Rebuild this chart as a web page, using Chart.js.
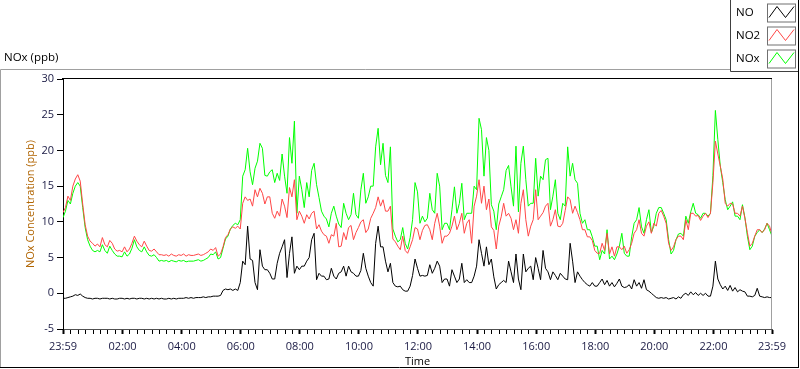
<!DOCTYPE html>
<html>
<head>
<meta charset="utf-8">
<title>NOx</title>
<script src="https://cdn.jsdelivr.net/npm/chart.js@4.4.1/dist/chart.umd.min.js"></script>
<style>
  html, body { margin: 0; padding: 0; background: #fff; }
  #wrap { width: 800px; height: 369px; }
</style>
</head>
<body>
<div id="wrap"><canvas id="noxChart" width="800" height="369"></canvas></div>
<script>
// samples every 5 minutes, starting at 23:59 of the previous day
const startMinute = -1;
const stepMinutes = 5;

const noValues = [
  -0.7, -0.7, -0.6, -0.5, -0.4, -0.2, -0.3, -0.1, -0.4, -0.6,
  -0.7, -0.7, -0.8, -0.7, -0.7, -0.8, -0.7, -0.7, -0.7, -0.8,
  -0.7, -0.8, -0.8, -0.7, -0.7, -0.8, -0.7, -0.8, -0.7, -0.7,
  -0.8, -0.7, -0.7, -0.8, -0.7, -0.8, -0.7, -0.8, -0.7, -0.8,
  -0.7, -0.8, -0.8, -0.7, -0.8, -0.7, -0.8, -0.7, -0.7, -0.7,
  -0.6, -0.7, -0.6, -0.7, -0.6, -0.6, -0.6, -0.5, -0.6, -0.5,
  -0.5, -0.4, -0.4, -0.4, -0.3, 0.4, 0.6, 0.5, 0.6, 0.4,
  0.6, 0.4, 1.5, 4.5, 4.0, 9.4, 4.8, 4.6, 1.5, 0.5,
  6.1, 3.8, 3.3, 3.3, 2.8, 2.0, 2.0, 4.2, 5.6, 6.5,
  7.5, 2.2, 5.6, 7.9, 2.8, 3.8, 3.3, 3.8, 3.8, 4.5,
  5.0, 7.5, 8.4, 1.9, 2.8, 2.4, 2.4, 1.9, 2.0, 3.5,
  2.4, 2.0, 2.8, 3.0, 3.8, 2.4, 3.8, 3.0, 2.8, 2.4,
  2.4, 3.2, 5.6, 3.5, 2.4, 1.5, 1.0, 7.0, 9.4, 6.5,
  6.5, 4.5, 3.0, 4.2, 1.5, 1.0, 0.9, 1.0, 0.5, 0.3,
  0.3, 1.0, 2.5, 4.8, 3.5, 2.4, 2.5, 2.4, 2.5, 4.0,
  2.8, 3.5, 4.5, 3.8, 1.5, 2.0, 2.0, 1.0, 3.3, 2.4,
  1.5, 2.0, 4.2, 1.5, 1.9, 1.5, 1.5, 2.4, 3.8, 7.5,
  5.6, 3.8, 6.5, 4.0, 4.8, 2.3, 0.6, 1.2, 1.5, 1.8,
  1.5, 4.5, 3.0, 1.5, 5.5, 2.0, 0.5, 5.5, 3.0, 3.5,
  3.8, 1.9, 5.0, 3.5, 1.9, 6.0, 3.5, 3.0, 1.9, 3.0,
  2.5, 1.9, 2.8, 2.4, 2.0, 1.9, 7.0, 4.5, 1.5, 3.0,
  2.4, 1.9, 1.5, 1.2, 1.0, 1.5, 1.0, 1.0, 1.5, 2.0,
  1.2, 1.8, 1.0, 1.5, 0.9, 1.4, 2.0, 1.0, 0.8, 0.9,
  1.2, 0.6, 1.9, 1.0, 1.5, 0.7, 1.9, 0.5, 0.3, 0.0,
  -0.3, -0.6, -0.7, -0.6, -0.7, -0.6, -0.8, -0.7, -0.6, -0.8,
  -0.5, -0.7, -0.2, 0.0, -0.3, 0.2, -0.2, 0.1, -0.3, 0.0,
  -0.3, 0.0, -0.4, -0.4, 1.0, 4.5, 2.0, 1.2, 0.6, 1.0,
  0.4, 1.1, 0.3, 0.8, 0.2, 0.5, 0.3, 0.2, -0.4, -0.4,
  -0.5, -0.3, 0.7, -0.4, -0.5, -0.6, -0.5, -0.6, -0.6
];

const no2Values = [
  11.3, 12.0, 13.6, 13.0, 15.0, 16.0, 16.6, 15.7, 12.5, 9.6,
  8.0, 7.3, 7.0, 6.6, 6.9, 6.5, 7.8, 6.8, 6.5, 7.4,
  7.0, 6.2, 5.9, 6.0, 5.8, 6.5, 5.8, 6.2, 7.0, 8.0,
  7.3, 6.8, 6.5, 7.3, 6.6, 6.0, 5.9, 6.2, 5.8, 5.4,
  5.4, 5.3, 5.4, 5.2, 5.5, 5.3, 5.2, 5.4, 5.3, 5.5,
  5.2, 5.4, 5.3, 5.3, 5.4, 5.5, 5.3, 5.4, 5.6, 5.8,
  6.2, 6.0, 6.4, 5.2, 5.5, 6.5, 7.8, 8.2, 9.0, 9.3,
  9.1, 9.4, 9.0, 12.6, 13.5, 13.0, 13.2, 12.2, 14.5, 13.5,
  14.7, 14.0, 12.5, 13.5, 13.5, 11.2, 10.5, 11.5, 10.8, 13.2,
  12.2, 10.6, 14.8, 13.5, 15.9, 10.3, 11.5, 10.8, 9.8, 11.0,
  10.4, 11.2, 11.5, 9.0, 9.6, 8.7, 8.2, 8.0, 7.0, 8.2,
  8.0, 9.8, 6.5, 6.6, 8.5, 7.5, 9.2, 9.5, 7.5, 8.5,
  9.2, 10.0, 10.3, 8.5, 9.0, 10.5, 11.2, 12.0, 13.5, 12.2,
  13.1, 11.5, 11.5, 12.2, 7.6, 7.2, 6.6, 6.1, 8.0, 6.0,
  5.6, 6.5, 7.5, 9.2, 9.0, 7.5, 8.8, 9.5, 9.6, 8.9,
  7.5, 9.8, 11.2, 9.4, 7.0, 8.0, 8.0, 8.4, 9.4, 10.8,
  8.9, 9.8, 11.2, 8.4, 9.8, 10.3, 7.0, 12.2, 13.6, 15.9,
  12.6, 15.0, 11.7, 13.2, 9.3, 8.8, 6.2, 9.4, 10.7, 12.6,
  10.8, 11.2, 10.5, 8.9, 10.3, 8.4, 12.6, 14.5, 10.3, 8.0,
  9.4, 10.3, 14.5, 10.3, 10.8, 11.3, 12.2, 12.6, 9.4, 10.3,
  11.7, 9.4, 9.3, 9.8, 11.6, 13.5, 13.1, 11.2, 12.2, 11.3,
  10.3, 8.9, 8.9, 7.9, 7.9, 7.4, 6.0, 5.6, 5.6, 7.0,
  6.0, 8.4, 5.5, 6.5, 5.2, 6.5, 6.5, 6.1, 6.6, 5.6,
  6.1, 7.0, 8.4, 8.9, 10.3, 8.4, 8.0, 9.4, 10.0, 8.4,
  9.8, 9.4, 11.2, 11.6, 10.8, 9.8, 7.0, 6.0, 6.5, 7.5,
  8.0, 8.0, 7.5, 10.3, 8.9, 11.2, 11.2, 10.8, 10.9, 10.2,
  10.8, 11.2, 10.6, 11.2, 15.5, 21.3, 19.5, 17.8, 16.0, 12.6,
  12.2, 12.6, 12.5, 11.2, 11.2, 10.8, 12.2, 10.5, 8.5, 6.6,
  7.0, 8.0, 8.9, 8.9, 8.5, 8.9, 9.8, 9.4, 8.2
];

const noxValues = [
  10.6, 11.5, 13.0, 12.5, 14.0, 15.0, 15.5, 15.0, 12.0, 9.2,
  7.5, 6.6, 6.0, 5.8, 6.0, 5.8, 6.8, 6.0, 5.6, 6.6,
  6.0, 5.5, 5.2, 5.2, 5.1, 5.8, 5.2, 5.5, 6.3, 7.5,
  6.5, 6.0, 5.8, 6.5, 5.8, 5.3, 5.2, 5.4, 5.0, 4.5,
  4.6, 4.5, 4.6, 4.4, 4.6, 4.5, 4.4, 4.6, 4.5, 4.6,
  4.4, 4.5, 4.5, 4.5, 4.6, 4.7, 4.5, 4.6, 4.8, 5.0,
  5.5, 5.4, 5.8, 4.8, 5.0, 6.3, 7.6, 8.0, 9.0, 9.5,
  9.8, 9.6, 10.3, 16.4, 17.3, 20.3, 17.0, 15.2, 17.5, 18.5,
  21.0, 20.3, 16.5, 16.4, 17.0, 17.3, 15.5, 16.8, 15.8, 19.5,
  16.4, 14.0, 21.8, 18.2, 24.1, 11.2, 16.4, 14.5, 12.0, 15.5,
  13.5, 17.2, 18.2, 15.2, 13.4, 11.5, 10.8, 10.4, 9.3, 11.2,
  12.2, 10.8, 9.7, 9.2, 12.6, 11.2, 10.3, 11.0, 14.0, 11.0,
  10.5, 14.5, 16.8, 12.6, 13.5, 15.0, 15.0, 20.5, 23.1, 18.0,
  21.0, 16.5, 15.5, 20.5, 9.0, 8.0, 7.2, 7.5, 9.2, 7.0,
  6.2, 7.8, 10.3, 15.5, 14.2, 9.8, 10.8, 10.0, 10.5, 14.0,
  11.7, 11.2, 16.8, 15.0, 8.9, 9.8, 9.8, 8.9, 11.7, 14.9,
  11.2, 12.6, 15.4, 10.3, 11.2, 11.2, 11.2, 15.0, 14.5, 24.5,
  22.9, 16.4, 21.8, 20.0, 12.4, 11.5, 8.9, 12.5, 13.5, 14.5,
  17.2, 17.9, 14.9, 12.2, 20.6, 11.4, 18.2, 20.6, 15.9, 12.2,
  12.6, 12.6, 18.9, 13.6, 16.4, 15.9, 18.7, 18.9, 11.7, 13.6,
  15.9, 11.2, 10.3, 12.6, 12.2, 20.5, 16.4, 18.2, 15.9, 15.4,
  11.2, 9.8, 10.3, 8.9, 8.9, 7.9, 6.6, 6.6, 4.7, 6.0,
  5.5, 8.9, 4.8, 5.2, 4.7, 5.5, 6.6, 8.4, 5.6, 5.2,
  5.2, 7.9, 9.8, 10.3, 12.0, 9.3, 8.4, 10.3, 11.7, 8.5,
  9.4, 11.2, 12.0, 12.0, 11.2, 10.3, 7.5, 5.5, 6.0, 7.5,
  8.3, 8.4, 8.0, 10.8, 9.8, 11.4, 12.6, 11.2, 11.0, 10.5,
  11.2, 11.2, 10.8, 11.2, 16.5, 25.6, 21.5, 17.8, 15.5, 13.1,
  11.7, 12.2, 12.8, 10.8, 10.8, 10.3, 12.4, 10.6, 8.0, 6.1,
  6.6, 8.0, 8.5, 8.9, 8.5, 9.0, 9.8, 8.9, 8.0
];

const seriesNames = ['NO', 'NO2', 'NOx'];
const seriesColors = ['#000000', '#ff4646', '#00ff00'];

// x ticks (minutes from midnight): labelled ones and the 15 min minor ones
const majorTickMinutes = [-1, 120, 240, 360, 480, 600, 720, 840, 960, 1080, 1200, 1320, 1439];
const majorTickLabels = ['23:59', '02:00', '04:00', '06:00', '08:00', '10:00', '12:00',
                         '14:00', '16:00', '18:00', '20:00', '22:00', '23:59'];
const minorTickStep = 15;

const tickColor = '#1a1a44';

Chart.defaults.font.family = '"Open Sans", sans-serif';
Chart.defaults.font.size = 11;

function toPoints(values) {
  return values.map((v, i) => ({ x: startMinute + i * stepMinutes, y: v }));
}

const allTicks = majorTickMinutes.slice();
for (let m = minorTickStep; m < 1439; m += minorTickStep) {
  if (!allTicks.includes(m)) allTicks.push(m);
}
allTicks.sort((a, b) => a - b);

// frame, caption and legend box like the original panel
const panelPlugin = {
  id: 'panel',
  afterDraw(chart) {
    const ctx = chart.ctx;
    const a = chart.chartArea;
    ctx.save();
    ctx.lineWidth = 1;

    // plot frame top / right
    ctx.strokeStyle = '#000';
    ctx.beginPath();
    ctx.moveTo(a.left - 1, a.top - 0.5);
    ctx.lineTo(a.right, a.top - 0.5);
    ctx.stroke();
    ctx.strokeStyle = '#a0a0a0';
    ctx.beginPath();
    ctx.moveTo(a.right - 0.5, a.top);
    ctx.lineTo(a.right - 0.5, a.bottom);
    ctx.stroke();

    // outer panel
    ctx.strokeStyle = '#a0a0a0';
    ctx.beginPath();
    ctx.moveTo(0.5, 368);
    ctx.lineTo(0.5, 69.5);
    ctx.lineTo(730, 69.5);
    ctx.stroke();
    ctx.strokeStyle = '#000';
    ctx.beginPath();
    ctx.moveTo(0, 367.5);
    ctx.lineTo(799, 367.5);
    ctx.moveTo(798.5, 0);
    ctx.lineTo(798.5, 368);
    ctx.stroke();

    // caption
    ctx.fillStyle = '#000';
    ctx.font = '11.5px "Open Sans", sans-serif';
    ctx.textBaseline = 'middle';
    ctx.textAlign = 'left';
    ctx.fillText('NOx (ppb)', 4, 58);

    // legend box
    ctx.fillStyle = '#fff';
    ctx.fillRect(730, 0, 68, 72);
    ctx.strokeStyle = '#404040';
    ctx.beginPath();
    ctx.moveTo(730.5, 0);
    ctx.lineTo(730.5, 71.5);
    ctx.lineTo(798, 71.5);
    ctx.stroke();

    chart.data.datasets.forEach((ds, j) => {
      const yc = 12.5 + j * 23;
      ctx.fillStyle = '#000';
      ctx.fillText(ds.label, 736, yc);
      ctx.strokeStyle = '#707070';
      ctx.strokeRect(767.5, yc - 8.5, 28, 18);
      ctx.strokeStyle = ds.borderColor;
      ctx.beginPath();
      ctx.moveTo(769, yc + 5);
      ctx.lineTo(777, yc - 6);
      ctx.lineTo(785.5, yc + 5);
      ctx.lineTo(794, yc - 6);
      ctx.stroke();
    });
    ctx.restore();
  }
};

const ctx = document.getElementById('noxChart').getContext('2d');
const noxChart = new Chart(ctx, {
  type: 'line',
  data: {
    datasets: [
      { label: seriesNames[0], data: toPoints(noValues), borderColor: seriesColors[0] },
      { label: seriesNames[1], data: toPoints(no2Values), borderColor: seriesColors[1] },
      { label: seriesNames[2], data: toPoints(noxValues), borderColor: seriesColors[2] }
    ]
  },
  options: {
    responsive: false,
    animation: false,
    events: [],
    layout: { padding: { left: 0, top: 79, right: 28, bottom: 0 } },
    elements: {
      point: { radius: 0 },
      line: { borderWidth: 1, tension: 0, fill: false }
    },
    plugins: {
      legend: { display: false },
      tooltip: { enabled: false }
    },
    scales: {
      x: {
        type: 'linear',
        min: -1,
        max: 1439,
        afterBuildTicks: s => { s.ticks = allTicks.map(v => ({ value: v })); },
        afterFit: s => { s.height = 40; },
        ticks: {
          autoSkip: false,
          maxRotation: 0,
          padding: 6,
          color: tickColor,
          callback: v => {
            const k = majorTickMinutes.indexOf(v);
            return k >= 0 ? majorTickLabels[k] : '';
          }
        },
        grid: {
          drawOnChartArea: false,
          tickLength: 5,
          tickColor: '#000',
          tickWidth: c => (majorTickMinutes.includes(c.tick.value) ? 2 : 1)
        },
        border: { color: '#505050' },
        title: {
          display: true,
          text: 'Time',
          color: '#000',
          padding: { top: 0, bottom: 1 }
        }
      },
      y: {
        min: -5,
        max: 30,
        afterFit: s => { s.width = 63; },
        ticks: { stepSize: 5, padding: 3, color: tickColor },
        grid: { drawOnChartArea: false, tickLength: 6, tickColor: '#000' },
        border: { color: '#000' },
        title: {
          display: true,
          text: 'NOx Concentration (ppb)',
          color: '#b06400',
          padding: { top: 24, bottom: 0 }
        }
      }
    }
  },
  plugins: [panelPlugin]
});
</script>
</body>
</html>
